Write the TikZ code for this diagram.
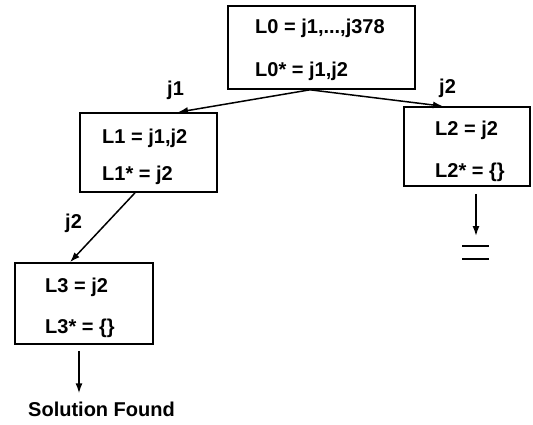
\documentclass[tikz,border=0pt]{standalone}
\usepackage{fontspec}
\setmainfont{Liberation Sans}
\usetikzlibrary{arrows.meta}
\begin{document}
\begin{tikzpicture}[x=1pt,y=-1pt,
  every node/.style={font=\bfseries\fontsize{20}{24}\selectfont, inner sep=0pt},
  box/.style={draw, line width=1.6pt, rectangle},
  txt/.style={anchor=base west},
  arr/.style={line width=1.5pt, -{Latex[length=10pt,width=7pt]}}]
\useasboundingbox (0,0) rectangle (533,424);

% search-tree boxes
\node[box, minimum width=187pt, minimum height=83pt] (l0) at (321.5,47.5) {};
\node[box, minimum width=137pt, minimum height=79pt] (l1) at (148.5,152.5) {};
\node[box, minimum width=126pt, minimum height=79pt] (l2) at (467,146.5) {};
\node[box, minimum width=138pt, minimum height=81pt] (l3) at (84,303.5) {};

% box contents
\node[txt] (l0a) at (255,33) {L0 = j1,...,j378};
\node[txt] (l0b) at (255,76) {L0* = j1,j2};
\node[txt] (l1a) at (102,143) {L1 = j1,j2};
\node[txt] (l1b) at (102,180) {L1* = j2};
\node[txt] (l2a) at (435,135) {L2 = j2};
\node[txt] (l2b) at (435,177) {L2* = \{\}};
\node[txt] (l3a) at (45,292) {L3 = j2};
\node[txt] (l3b) at (45,333) {L3* = \{\}};

% branch labels
\node[txt] (ja) at (167,95) {j1};
\node[txt] (jb) at (439,93) {j2};
\node[txt] (jc) at (65,228) {j2};

% branches
\draw[arr] ([xshift=-11.5pt]l0.south) -- ([xshift=29.5pt]l1.north);
\draw[arr] ([xshift=-11.5pt]l0.south) -- ([xshift=-24pt]l2.north);
\draw[arr] ([xshift=-13.5pt]l1.south) -- ([xshift=-14pt]l3.north);

% dead end under L2
\coordinate (l2o) at ([xshift=9pt,yshift=-7pt]l2.south);
\coordinate (dead) at (476,236);
\draw[arr] (l2o) -- (dead);
\draw[line width=1.6pt] (462,246) -- (489,246);
\draw[line width=1.6pt] (462,259) -- (489,259);

% success under L3
\node[txt] (sol) at (28,416) {Solution Found};
\coordinate (l3o) at ([xshift=-5pt,yshift=-6pt]l3.south);
\draw[arr, shorten >=8pt] (l3o) -- (l3o |- sol.north);
\end{tikzpicture}
\end{document}
